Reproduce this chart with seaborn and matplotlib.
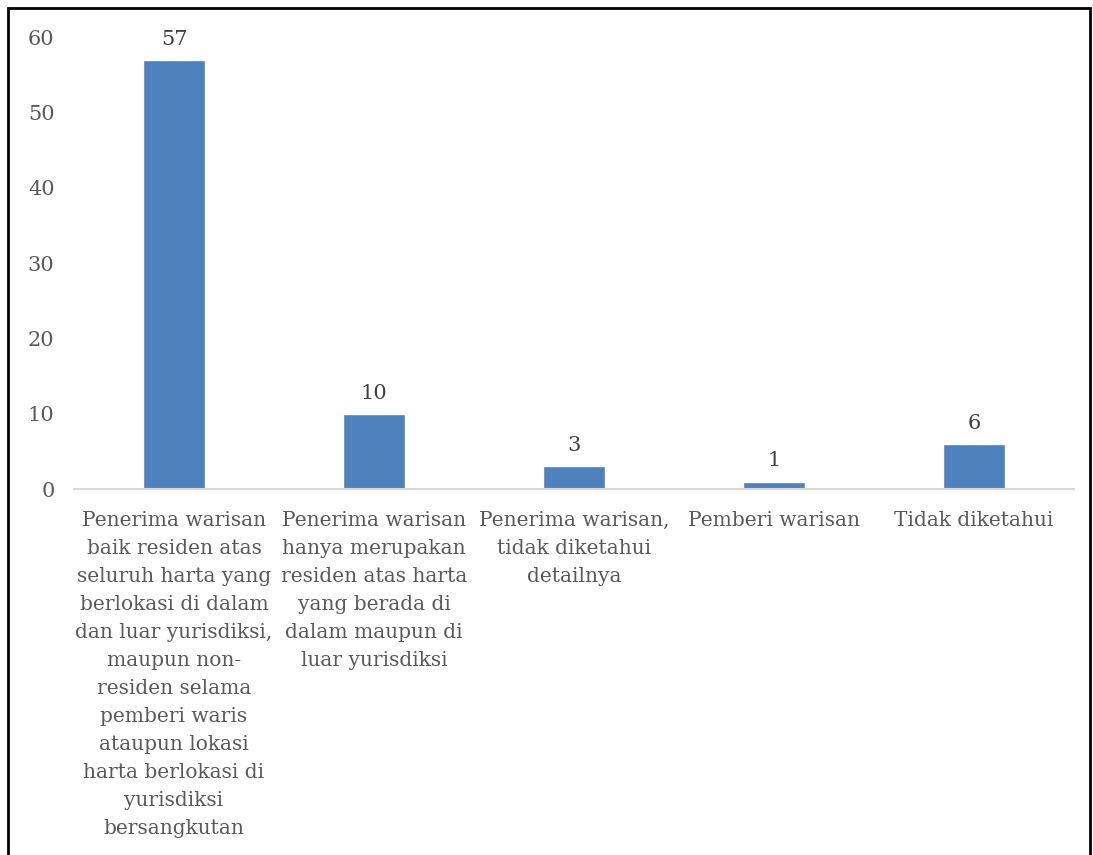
import pandas as pd
import seaborn as sns
import matplotlib.pyplot as plt
from matplotlib.patches import Rectangle

categories = [
    "Penerima warisan\nbaik residen atas\nseluruh harta yang\nberlokasi di dalam\ndan luar yurisdiksi,\nmaupun non-\nresiden selama\npemberi waris\nataupun lokasi\nharta berlokasi di\nyurisdiksi\nbersangkutan",
    "Penerima warisan\nhanya merupakan\nresiden atas harta\nyang berada di\ndalam maupun di\nluar yurisdiksi",
    "Penerima warisan,\ntidak diketahui\ndetailnya",
    "Pemberi warisan",
    "Tidak diketahui",
]
counts = [57, 10, 3, 1, 6]
yticks = [0, 10, 20, 30, 40, 50, 60]

df = pd.DataFrame({"kategori": categories, "jumlah": counts})

sns.set_style("white")
plt.rcParams["font.family"] = ["DejaVu Serif"]
text_color = "#595959"

fig = plt.figure(figsize=(10.93, 8.55), dpi=100)
ax = fig.add_axes([0.0677, 0.428, 0.915, 0.5287])

sns.barplot(data=df, x="kategori", y="jumlah", color="#4F81BD", saturation=1,
            width=0.31, ax=ax)
ax.bar_label(ax.containers[0], fontsize=15, color="#404040", padding=8)

ax.set_ylim(0, 60)
ax.set_xlim(-0.5, 4.5)
ax.set_yticks(yticks)
ax.set_xlabel("")
ax.set_ylabel("")
ax.tick_params(axis="y", length=0, labelsize=15, labelcolor=text_color, pad=14)
ax.tick_params(axis="x", length=0, labelsize=14.5, labelcolor=text_color, pad=16)
for lbl in ax.get_xticklabels():
    lbl.set_linespacing(1.6)
    lbl.set_verticalalignment("top")
for side in ["top", "right", "left"]:
    ax.spines[side].set_visible(False)
ax.spines["bottom"].set_color("#D9D9D9")
ax.spines["bottom"].set_linewidth(1.5)

# border round the chart
fig.patches.append(Rectangle((8 / 1093, -0.01), 1082 / 1093, 1 - 8 / 855 + 0.01,
                             transform=fig.transFigure, fill=False,
                             edgecolor="black", linewidth=2))

plt.savefig("out.png", dpi=100)
plt.close()
